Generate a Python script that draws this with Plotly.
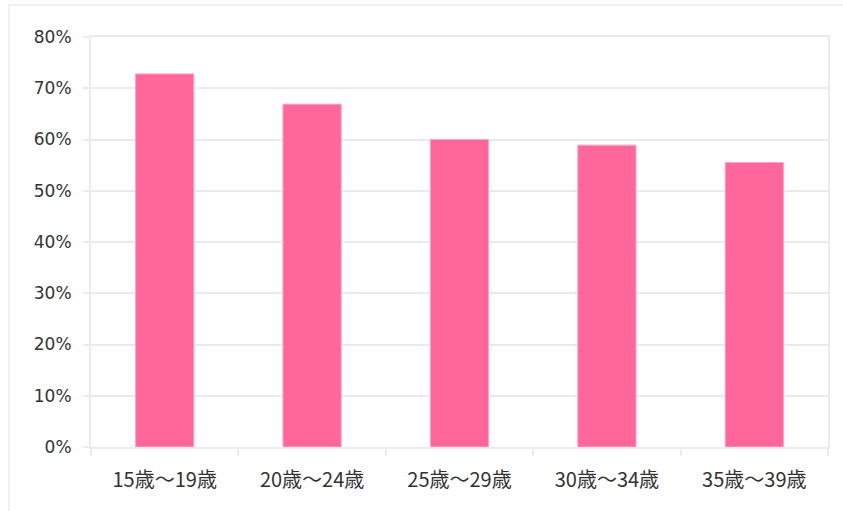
import plotly.graph_objects as go

# Age groups and their share (percent)
age_groups = ["15歳～19歳", "20歳～24歳", "25歳～29歳", "30歳～34歳", "35歳～39歳"]
share_pct = [72.8, 66.9, 60.0, 58.9, 55.5]
y_ticks = [0, 10, 20, 30, 40, 50, 60, 70, 80]
y_tick_labels = [f"{v}%" for v in y_ticks]

W, H = 843, 511
L, R, T, B = 91, 15, 37, 64
plot_w = W - L - R
plot_h = H - T - B

grid_col = "#ebebeb"
text_col = "#333333"
font_fam = "DejaVu Sans, Noto Sans CJK JP, sans-serif"

fig = go.Figure(
    go.Bar(
        x=age_groups,
        y=share_pct,
        marker=dict(color="#ff6699", line=dict(color="#ffa3c2", width=1)),
        width=0.395,
        hoverinfo="x+y",
    )
)

# outer frame around the whole chart
fig.add_shape(
    type="rect",
    xref="paper", yref="paper",
    x0=(9 - L) / plot_w, x1=(W + 10 - L) / plot_w,
    y0=-(B + 20) / plot_h, y1=1 + (T - 5) / plot_h,
    line=dict(color="#f0f0f0", width=2),
    layer="below",
)

fig.update_layout(
    width=W, height=H,
    margin=dict(l=L, r=R, t=T, b=B),
    paper_bgcolor="white",
    plot_bgcolor="white",
    showlegend=False,
    font=dict(family=font_fam, color=text_col),
    xaxis=dict(
        showgrid=False,
        showline=True, linecolor=grid_col, linewidth=2, mirror=True,
        ticks="outside", tickson="boundaries", ticklen=7, tickcolor=grid_col, tickwidth=2,
        tickfont=dict(size=20, color=text_col, family="Noto Sans CJK JP, sans-serif"),
        ticklabelstandoff=14,
    ),
    yaxis=dict(
        range=[0, 80],
        tickvals=y_ticks, ticktext=y_tick_labels,
        showgrid=True, gridcolor=grid_col, gridwidth=2,
        showline=True, linecolor=grid_col, linewidth=2, mirror=True,
        ticks="outside", ticklen=6, tickcolor=grid_col, tickwidth=2,
        tickfont=dict(size=17, color=text_col),
        ticklabelstandoff=8,
        zeroline=False,
    ),
)

fig.write_html("out.html")
